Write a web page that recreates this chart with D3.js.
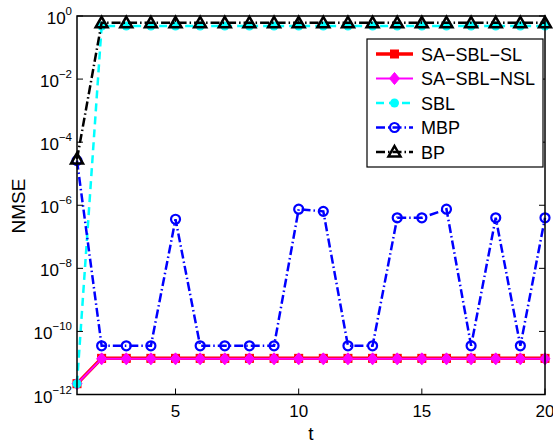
<!DOCTYPE html>
<html>
<head>
<meta charset="utf-8">
<script src="https://cdn.jsdelivr.net/npm/d3@7"></script>
<style>
  body { margin: 0; background: #fff; }
  text { font-family: "Liberation Sans", Arial, sans-serif; fill: #000; }
</style>
</head>
<body>
<svg width="553" height="446"></svg>
<script>
// waarden
const tValues = [1, 2, 3, 4, 5, 6, 7, 8, 9, 10, 11, 12, 13, 14, 15, 16, 17, 18, 19, 20];
const saSblSl = [2.2e-12, 1.4e-11, 1.4e-11, 1.4e-11, 1.4e-11, 1.4e-11, 1.4e-11, 1.4e-11, 1.4e-11, 1.4e-11,
                 1.4e-11, 1.4e-11, 1.4e-11, 1.4e-11, 1.4e-11, 1.4e-11, 1.4e-11, 1.4e-11, 1.4e-11, 1.4e-11];
const saSblNsl = [2.2e-12, 1.35e-11, 1.35e-11, 1.35e-11, 1.35e-11, 1.35e-11, 1.35e-11, 1.35e-11, 1.35e-11, 1.35e-11,
                  1.35e-11, 1.35e-11, 1.35e-11, 1.35e-11, 1.35e-11, 1.35e-11, 1.35e-11, 1.35e-11, 1.35e-11, 1.35e-11];
const sbl = [2.2e-12, 0.48, 0.48, 0.48, 0.48, 0.48, 0.48, 0.48, 0.48, 0.48,
             0.48, 0.48, 0.48, 0.48, 0.48, 0.48, 0.48, 0.48, 0.48, 0.48];
const mbp = [2.6e-5, 3.5e-11, 3.5e-11, 3.5e-11, 3.6e-7, 3.5e-11, 3.5e-11, 3.5e-11, 3.5e-11, 7.5e-7,
             6.4e-7, 3.5e-11, 3.5e-11, 4.0e-7, 4.0e-7, 7.5e-7, 3.5e-11, 4.0e-7, 3.5e-11, 4.0e-7];
const bp = [2.9e-5, 0.61, 0.61, 0.61, 0.61, 0.61, 0.61, 0.61, 0.61, 0.61,
            0.61, 0.61, 0.61, 0.61, 0.61, 0.61, 0.61, 0.61, 0.61, 0.61];
const seriesNames = ['SA\u2212SBL\u2212SL', 'SA\u2212SBL\u2212NSL', 'SBL', 'MBP', 'BP'];
const xTicks = [5, 10, 15, 20];
const yTickPowers = [0, -2, -4, -6, -8, -10, -12];

const svg = d3.select('svg');
const margin = {top: 16, right: 8, bottom: 52, left: 77};
const width = +svg.attr('width');
const innerWidth = width - margin.left - margin.right;
const innerHeight = 394.5 - margin.top;

const x = d3.scaleLinear().domain([1, 20]).range([0, innerWidth]);
const y = d3.scaleLog().domain([1e-12, 1]).range([innerHeight, 0]);

const g = svg.append('g').attr('transform', `translate(${margin.left},${margin.top})`);

// series stijl (matlab achtig)
const series = [
  {name: seriesNames[0], values: saSblSl, color: '#ff0000', width: 3.5, dash: null, marker: 'square'},
  {name: seriesNames[1], values: saSblNsl, color: '#ff00ff', width: 2, dash: null, marker: 'diamond'},
  {name: seriesNames[2], values: sbl, color: '#00ffff', width: 2.5, dash: '8,5', marker: 'dot'},
  {name: seriesNames[3], values: mbp, color: '#0000ff', width: 2.5, dash: '9,3,1.5,3', marker: 'circle'},
  {name: seriesNames[4], values: bp, color: '#000000', width: 2.5, dash: '9,3,1.5,3', marker: 'triangle'}
];

function drawMarker(sel, type, color) {
  if (type === 'square') {
    sel.append('rect').attr('x', -4).attr('y', -4).attr('width', 8).attr('height', 8)
      .attr('fill', color).attr('stroke', color).attr('stroke-width', 1);
  } else if (type === 'diamond') {
    sel.append('path').attr('d', 'M0,-6L5,0L0,6L-5,0Z')
      .attr('fill', color).attr('stroke', color).attr('stroke-width', 1);
  } else if (type === 'dot') {
    sel.append('circle').attr('r', 4.5).attr('fill', color);
  } else if (type === 'circle') {
    sel.append('circle').attr('r', 4.5).attr('fill', 'none')
      .attr('stroke', color).attr('stroke-width', 2.2);
  } else if (type === 'triangle') {
    sel.append('path').attr('d', 'M0,-6L6,4.5L-6,4.5Z')
      .attr('fill', 'none').attr('stroke', color).attr('stroke-width', 2.5);
  }
}

const line = d3.line().x((d, i) => x(tValues[i])).y(d => y(d));

series.forEach(s => {
  g.append('path')
    .datum(s.values)
    .attr('fill', 'none')
    .attr('stroke', s.color)
    .attr('stroke-width', s.width)
    .attr('stroke-dasharray', s.dash)
    .attr('d', line);
  g.selectAll(null).data(s.values).enter().append('g')
    .attr('transform', (d, i) => `translate(${x(tValues[i])},${y(d)})`)
    .each(function() { drawMarker(d3.select(this), s.marker, s.color); });
});

// assen en kader
const frame = g.append('g');
frame.append('rect').attr('width', innerWidth).attr('height', innerHeight)
  .attr('fill', 'none').attr('stroke', '#000').attr('stroke-width', 1.5);

xTicks.forEach(v => {
  frame.append('line').attr('x1', x(v)).attr('x2', x(v)).attr('y1', innerHeight).attr('y2', innerHeight - 6)
    .attr('stroke', '#000').attr('stroke-width', 1);
  frame.append('line').attr('x1', x(v)).attr('x2', x(v)).attr('y1', 0).attr('y2', 6)
    .attr('stroke', '#000').attr('stroke-width', 1);
  frame.append('text').attr('x', x(v)).attr('y', innerHeight + 22)
    .attr('text-anchor', 'middle').style('font-size', '17px').text(v);
});

yTickPowers.forEach(p => {
  const yy = y(Math.pow(10, p));
  frame.append('line').attr('x1', 0).attr('x2', 6).attr('y1', yy).attr('y2', yy)
    .attr('stroke', '#000').attr('stroke-width', 1);
  frame.append('line').attr('x1', innerWidth).attr('x2', innerWidth - 6).attr('y1', yy).attr('y2', yy)
    .attr('stroke', '#000').attr('stroke-width', 1);
  const t = frame.append('text').attr('x', -5).attr('y', yy + 8)
    .attr('text-anchor', 'end').style('font-size', '17px');
  t.append('tspan').text('10');
  t.append('tspan').attr('dy', -9).style('font-size', '11.5px').text(p === 0 ? '0' : '\u2212' + Math.abs(p));
});

svg.append('text').attr('x', margin.left + x(10.5)).attr('y', 440)
  .attr('text-anchor', 'middle').style('font-size', '19px').text('t');
svg.append('text').attr('transform', 'translate(25,206) rotate(-90)')
  .attr('text-anchor', 'middle').style('font-size', '19px').text('NMSE');

// legenda
const legend = svg.append('g').attr('transform', 'translate(367,39)');
legend.append('rect').attr('width', 176).attr('height', 128)
  .attr('fill', '#fff').attr('stroke', '#000').attr('stroke-width', 1.2);
series.forEach((s, i) => {
  const row = legend.append('g').attr('transform', `translate(0,${15 + i * 24.5})`);
  row.append('line').attr('x1', 9).attr('x2', 46).attr('y1', 0).attr('y2', 0)
    .attr('stroke', s.color).attr('stroke-width', s.width).attr('stroke-dasharray', s.dash);
  drawMarker(row.append('g').attr('transform', 'translate(27.5,0)'), s.marker, s.color);
  row.append('text').attr('x', 54).attr('y', 6.5).style('font-size', '18px').text(s.name);
});
</script>
</body>
</html>
